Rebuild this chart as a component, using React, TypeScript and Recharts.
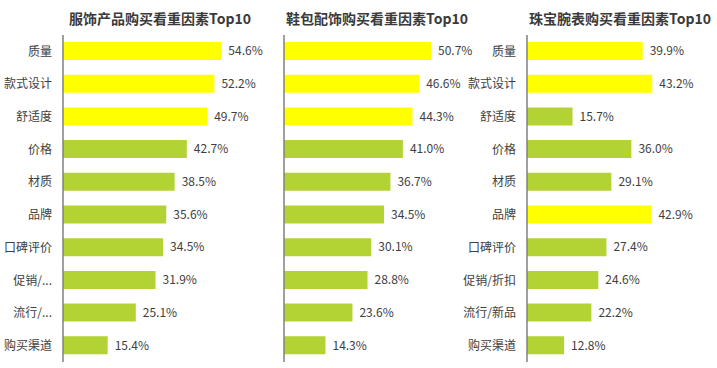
import React from "react";
import { BarChart, Bar, XAxis, YAxis, Cell, LabelList } from "recharts";

const apparelFactors = ["质量", "款式设计", "舒适度", "价格", "材质", "品牌", "口碑评价", "促销/...", "流行/...", "购买渠道"];
const apparelValues = [54.6, 52.2, 49.7, 42.7, 38.5, 35.6, 34.5, 31.9, 25.1, 15.4];

const bagFactors = ["质量", "款式设计", "舒适度", "价格", "材质", "品牌", "口碑评价", "促销/折扣", "流行/新品", "购买渠道"];
const bagValues = [50.7, 46.6, 44.3, 41.0, 36.7, 34.5, 30.1, 28.8, 23.6, 14.3];

const jewelryFactors = ["质量", "款式设计", "舒适度", "价格", "材质", "品牌", "口碑评价", "促销/折扣", "流行/新品", "购买渠道"];
const jewelryValues = [39.9, 43.2, 15.7, 36.0, 29.1, 42.9, 27.4, 24.6, 22.2, 12.8];

// which rows are highlighted yellow
const apparelHighlight = [true, true, true, false, false, false, false, false, false, false];
const bagHighlight = [true, true, true, false, false, false, false, false, false, false];
const jewelryHighlight = [true, true, false, false, false, true, false, false, false, false];

const YELLOW = "#ffff00";
const GREEN = "#b3d234";
const FONT = "'Noto Sans CJK SC', 'Noto Sans', sans-serif";

type PanelProps = {
  title: string;
  factors: string[];
  values: number[];
  highlight: boolean[];
  left: number;
  axisWidth: number;
  showTicks: boolean;
  titleCenter: number;
};

function Panel({ title, factors, values, highlight, left, axisWidth, showTicks, titleCenter }: PanelProps) {
  const data = factors.map((f, i) => ({ name: f, value: values[i] }));
  return (
    <>
      <div
        style={{
          position: "absolute",
          left: titleCenter - 120,
          width: 240,
          top: 8,
          textAlign: "center",
          fontFamily: FONT,
          fontWeight: "bold",
          fontSize: 14,
          lineHeight: "20px",
          color: "#3a3a3a",
          whiteSpace: "nowrap",
        }}
      >
        {title}
      </div>
      <div style={{ position: "absolute", left, top: 0 }}>
        <BarChart
          width={axisWidth + 174 + 45}
          height={362}
          data={data}
          layout="vertical"
          margin={{ top: 35, right: 45, left: 0, bottom: 0 }}
        >
          <XAxis type="number" domain={[0, 60]} hide />
          <YAxis
            type="category"
            dataKey="name"
            width={axisWidth}
            axisLine={{ stroke: "#808080", strokeWidth: 1.5 }}
            tickLine={false}
            tickSize={6}
            tickMargin={5}
            tick={showTicks ? { fill: "#404040", fontSize: 12, fontFamily: FONT } : false}
            interval={0}
          />
          <Bar dataKey="value" barSize={18} isAnimationActive={false}>
            {data.map((d, i) => (
              <Cell key={d.name} fill={highlight[i] ? YELLOW : GREEN} />
            ))}
            <LabelList
              dataKey="value"
              position="right"
              offset={7}
              formatter={(v: any) => `${Number(v).toFixed(1)}%`}
              style={{ fill: "#404040", fontSize: 12, fontFamily: FONT }}
            />
          </Bar>
        </BarChart>
      </div>
    </>
  );
}

export default function App() {
  return (
    <div style={{ position: "absolute", left: 0, top: 0, width: 717, height: 368, background: "#fff", overflow: "hidden" }}>
      <Panel
        title="服饰产品购买看重因素Top10"
        factors={apparelFactors}
        values={apparelValues}
        highlight={apparelHighlight}
        left={0}
        axisWidth={63}
        showTicks={true}
        titleCenter={160}
      />
      <Panel
        title="鞋包配饰购买看重因素Top10"
        factors={bagFactors}
        values={bagValues}
        highlight={bagHighlight}
        left={240}
        axisWidth={44}
        showTicks={false}
        titleCenter={377}
      />
      <Panel
        title="珠宝腕表购买看重因素Top10"
        factors={jewelryFactors}
        values={jewelryValues}
        highlight={jewelryHighlight}
        left={460}
        axisWidth={67}
        showTicks={true}
        titleCenter={620}
      />
    </div>
  );
}
